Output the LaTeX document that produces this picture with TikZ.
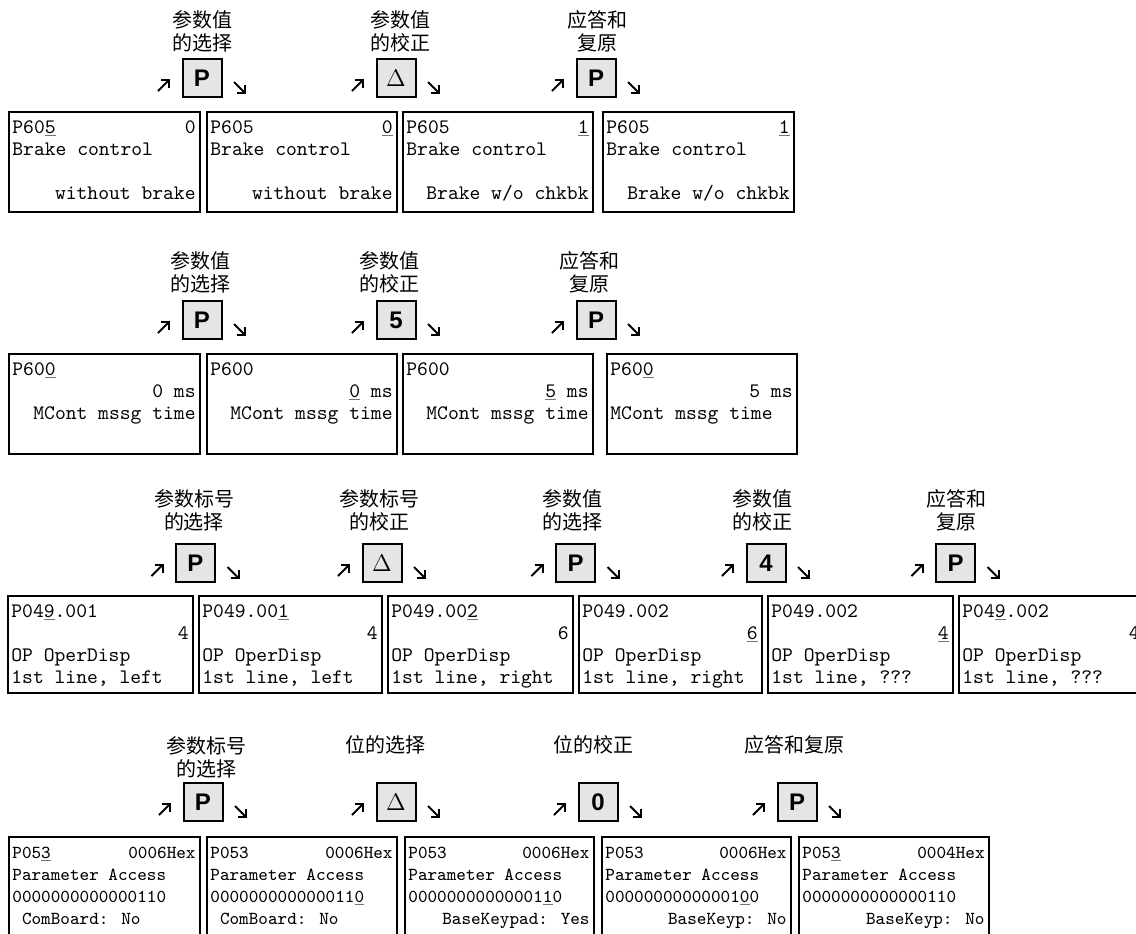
\documentclass[tikz,border=0pt]{standalone}
\usepackage{fontspec}
\newfontfamily\keysans{Liberation Sans}
\newfontfamily\keyserif{Liberation Serif}
\newfontfamily\cjk{Noto Sans CJK SC}
\newcommand\uln[1]{{\setbox0\hbox{#1}\rlap{\textcolor{black!55}{\rule[-1.7pt]{\wd0}{0.55pt}}}\box0}}
\tikzset{
  lcd/.style={draw, line width=1.2pt, anchor=north west, inner sep=0pt, outer sep=0pt},
  txt/.style={font=\ttfamily\fontsize{10.3}{11}\selectfont, inner sep=0pt},
  txts/.style={font=\ttfamily\fontsize{9.15}{11}\selectfont, inner sep=0pt},
  key/.style={draw, line width=1pt, fill=black!10, minimum width=19.5pt, minimum height=19pt, inner sep=0pt, font=\keysans\bfseries\fontsize{12}{12}\selectfont},
  keyd/.style={key, font=\keyserif\fontsize{12}{12}\selectfont},
  lbl/.style={font=\cjk\fontsize{10}{11.5}\selectfont, align=center, inner sep=0pt},
  karr/.style={line width=1pt},
}
\newcommand\lcdbox[5]{\node[lcd, minimum width={0.5pt*#4}, minimum height={0.5pt*#5}] (#1) at (#2,#3) {};}
\newcommand\tL[5][txt]{\node[#1,anchor=base west] (#2) at ([xshift=1.5pt,yshift={-(10.5+11*(#4-1))*1pt}]#3.north west) {#5};}
\newcommand\tR[5][txt]{\node[#1,anchor=base east] (#2) at ([xshift=-2pt,yshift={-(10.5+11*(#4-1))*1pt}]#3.north east) {#5};}
\newcommand\karrows[1]{%
  \draw[karr] ([shift={(-44,13)}]#1.center) -- ([shift={(-33,2)}]#1.center);
  \draw[karr] ([shift={(-41,2)}]#1.center) -- ([shift={(-33,2)}]#1.center) -- ([shift={(-33,10)}]#1.center);
  \draw[karr] ([shift={(32,4)}]#1.center) -- ([shift={(43,15)}]#1.center);
  \draw[karr] ([shift={(35,15)}]#1.center) -- ([shift={(43,15)}]#1.center) -- ([shift={(43,7)}]#1.center);
}
\begin{document}
\begin{tikzpicture}[x=0.5pt,y=-0.5pt]
\useasboundingbox (0,0) rectangle (1136,933);
\clip (0,0) rectangle (1136,933);
% ---------------- Row 1
\node[lbl] (l11) at (202,31) {参数值\\的选择};
\node[lbl] (l12) at (400,31) {参数值\\的校正};
\node[lbl] (l13) at (597,31) {应答和\\复原};
\node[key] (k11) at (202,78) {P};
\node[keyd] (k12) at (396,78) {$\Delta$};
\node[key] (k13) at (596,78) {P};
\karrows{k11}\karrows{k12}\karrows{k13}
\lcdbox{b11}{9}{112}{191}{100}
\lcdbox{b12}{207}{112}{190}{100}
\lcdbox{b13}{403}{112}{190}{100}
\lcdbox{b14}{603}{112}{191}{100}
\tL{t11a}{b11}{1}{P60\uln{5}}\tR{t11b}{b11}{1}{0}\tL{t11c}{b11}{2}{Brake control}\tR{t11d}{b11}{4}{without brake}
\tL{t12a}{b12}{1}{P605}\tR{t12b}{b12}{1}{\uln{0}}\tL{t12c}{b12}{2}{Brake control}\tR{t12d}{b12}{4}{without brake}
\tL{t13a}{b13}{1}{P605}\tR{t13b}{b13}{1}{\uln{1}}\tL{t13c}{b13}{2}{Brake control}\tR{t13d}{b13}{4}{Brake w/o chkbk}
\tL{t14a}{b14}{1}{P605}\tR{t14b}{b14}{1}{\uln{1}}\tL{t14c}{b14}{2}{Brake control}\tR{t14d}{b14}{4}{Brake w/o chkbk}
% ---------------- Row 2
\node[lbl] (l21) at (200,272) {参数值\\的选择};
\node[lbl] (l22) at (389,272) {参数值\\的校正};
\node[lbl] (l23) at (589,272) {应答和\\复原};
\node[key] (k21) at (202,320) {P};
\node[key] (k22) at (396,320) {5};
\node[key] (k23) at (596,320) {P};
\karrows{k21}\karrows{k22}\karrows{k23}
\lcdbox{b21}{9}{354}{191}{100}
\lcdbox{b22}{207}{354}{190}{100}
\lcdbox{b23}{403}{354}{190}{100}
\lcdbox{b24}{607}{354}{190}{100}
\tL{t21a}{b21}{1}{P60\uln{0}}\tR{t21b}{b21}{2}{0 ms}\tR{t21c}{b21}{3}{MCont mssg time}
\tL{t22a}{b22}{1}{P600}\tR{t22b}{b22}{2}{\uln{0} ms}\tR{t22c}{b22}{3}{MCont mssg time}
\tL{t23a}{b23}{1}{P600}\tR{t23b}{b23}{2}{\uln{5} ms}\tR{t23c}{b23}{3}{MCont mssg time}
\tL{t24a}{b24}{1}{P60\uln{0}}\tR{t24b}{b24}{2}{5 ms}\tL{t24c}{b24}{3}{MCont mssg time}
% ---------------- Row 3
\node[lbl] (l31) at (194,510) {参数标号\\的选择};
\node[lbl] (l32) at (379,510) {参数标号\\的校正};
\node[lbl] (l33) at (572,510) {参数值\\的选择};
\node[lbl] (l34) at (762,510) {参数值\\的校正};
\node[lbl] (l35) at (956,510) {应答和\\复原};
\node[key] (k31) at (195.5,563) {P};
\node[keyd] (k32) at (382,563) {$\Delta$};
\node[key] (k33) at (575.5,563) {P};
\node[key] (k34) at (766,563) {4};
\node[key] (k35) at (955.5,563) {P};
\karrows{k31}\karrows{k32}\karrows{k33}\karrows{k34}\karrows{k35}
\lcdbox{b31}{8}{596}{185}{97}
\lcdbox{b32}{199}{596}{183}{97}
\lcdbox{b33}{388}{596}{185}{97}
\lcdbox{b34}{579}{596}{183}{97}
\lcdbox{b35}{768}{596}{185}{97}
\lcdbox{b36}{959}{596}{185}{97}
\tL{t31a}{b31}{1}{P04\uln{9}.001}\tR{t31b}{b31}{2}{4}\tL{t31c}{b31}{3}{OP OperDisp}\tL{t31d}{b31}{4}{1st line, left}
\tL{t32a}{b32}{1}{P049.00\uln{1}}\tR{t32b}{b32}{2}{4}\tL{t32c}{b32}{3}{OP OperDisp}\tL{t32d}{b32}{4}{1st line, left}
\tL{t33a}{b33}{1}{P049.00\uln{2}}\tR{t33b}{b33}{2}{6}\tL{t33c}{b33}{3}{OP OperDisp}\tL{t33d}{b33}{4}{1st line, right}
\tL{t34a}{b34}{1}{P049.002}\tR{t34b}{b34}{2}{\uln{6}}\tL{t34c}{b34}{3}{OP OperDisp}\tL{t34d}{b34}{4}{1st line, right}
\tL{t35a}{b35}{1}{P049.002}\tR{t35b}{b35}{2}{\uln{4}}\tL{t35c}{b35}{3}{OP OperDisp}\tL{t35d}{b35}{4}{1st line, ???}
\tL{t36a}{b36}{1}{P04\uln{9}.002}\tR{t36b}{b36}{2}{4}\tL{t36c}{b36}{3}{OP OperDisp}\tL{t36d}{b36}{4}{1st line, ???}
% ---------------- Row 4
\node[lbl] (l41) at (206,757) {参数标号\\的选择};
\node[lbl] (l42) at (385,745) {位的选择};
\node[lbl] (l43) at (593,745) {位的校正};
\node[lbl] (l44) at (794,745) {应答和复原};
\node[key] (k41) at (203,802) {P};
\node[keyd] (k42) at (396,802) {$\Delta$};
\node[key] (k43) at (598,802) {0};
\node[key] (k44) at (797,802) {P};
\karrows{k41}\karrows{k42}\karrows{k43}\karrows{k44}
\lcdbox{b41}{9}{837}{191}{140}
\lcdbox{b42}{207}{837}{190}{140}
\lcdbox{b43}{405}{837}{189}{140}
\lcdbox{b44}{602}{837}{189}{140}
\lcdbox{b45}{799}{837}{190}{140}
\tL[txts]{t41a}{b41}{1}{P05\uln{3}}\tR[txts]{t41b}{b41}{1}{0006Hex}\tL[txts]{t41c}{b41}{2}{Parameter Access}\tL[txts]{t41d}{b41}{3}{0000000000000110}\tL[txts]{t41e}{b41}{4}{\hphantom{0}ComBoard: No}
\tL[txts]{t42a}{b42}{1}{P053}\tR[txts]{t42b}{b42}{1}{0006Hex}\tL[txts]{t42c}{b42}{2}{Parameter Access}\tL[txts]{t42d}{b42}{3}{000000000000011\uln{0}}\tL[txts]{t42e}{b42}{4}{\hphantom{0}ComBoard: No}
\tL[txts]{t43a}{b43}{1}{P053}\tR[txts]{t43b}{b43}{1}{0006Hex}\tL[txts]{t43c}{b43}{2}{Parameter Access}\tL[txts]{t43d}{b43}{3}{00000000000001\uln{1}0}\tR[txts]{t43e}{b43}{4}{BaseKeypad: Yes}
\tL[txts]{t44a}{b44}{1}{P053}\tR[txts]{t44b}{b44}{1}{0006Hex}\tL[txts]{t44c}{b44}{2}{Parameter Access}\tL[txts]{t44d}{b44}{3}{00000000000001\uln{0}0}\tR[txts]{t44e}{b44}{4}{BaseKeyp: No}
\tL[txts]{t45a}{b45}{1}{P05\uln{3}}\tR[txts]{t45b}{b45}{1}{0004Hex}\tL[txts]{t45c}{b45}{2}{Parameter Access}\tL[txts]{t45d}{b45}{3}{0000000000000110}\tR[txts]{t45e}{b45}{4}{BaseKeyp: No}
\end{tikzpicture}
\end{document}
